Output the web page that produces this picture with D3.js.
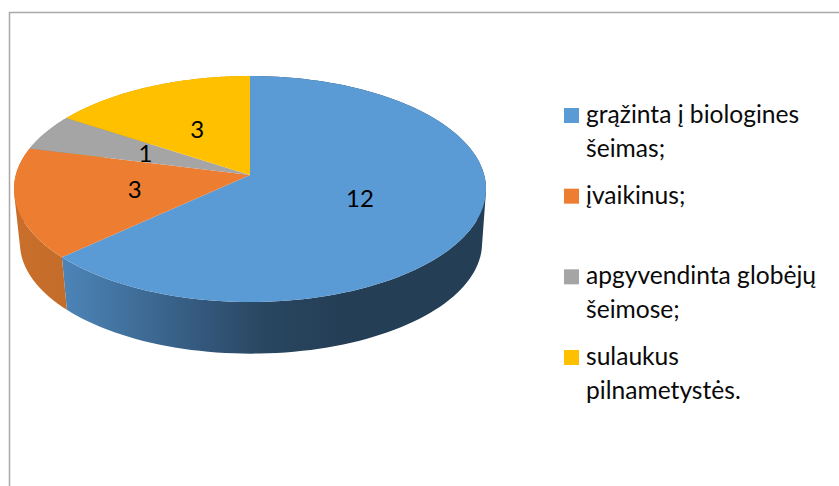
<!DOCTYPE html>
<html lang="lt">
<head>
<meta charset="utf-8">
<style>
  html, body { margin: 0; padding: 0; background: #fff; overflow: hidden; }
</style>
<script src="https://cdn.jsdelivr.net/npm/d3@7"></script>
</head>
<body>
<div id="chart"></div>
<script>
const categories = ['grąžinta į biologines šeimas;', 'įvaikinus;', 'apgyvendinta globėjų šeimose;', 'sulaukus pilnametystės.'];
const legendLines = [['grąžinta į biologines', 'šeimas;'], ['įvaikinus;'], ['apgyvendinta globėjų', 'šeimose;'], ['sulaukus', 'pilnametystės.']];
const values = [12, 3, 1, 3];
const colors = ['#5B9BD5', '#ED7D31', '#A5A5A5', '#FFC000'];

const W = 839, H = 486;
const fontFamily = 'Lato, Carlito, sans-serif';

const svg = d3.select('#chart').append('svg')
    .attr('width', W).attr('height', H)
    .style('display', 'block');

// Chart frame, cut off by the right and bottom of the picture
svg.append('path')
    .attr('d', `M9.5,${H} V12.5 H${W}`)
    .attr('fill', 'none').attr('stroke', '#A9A9A9').attr('stroke-width', 1.5);

// Perspective projection of the unit circle onto the pie top
const cx = 250, apexY = 175, persp = -0.1239, scaleX = 234.2, scaleY = 89.6;
function project(angle, r = 1) {
    const u = r * Math.sin(angle), v = -r * Math.cos(angle);
    const d = 1 + persp * v;
    return [cx + scaleX * u / d, (apexY + scaleY * v) / d];
}
// Base disc: top rim shrunk a little and moved down
const topCy = 189, baseCx = 251, baseCy = 243, baseK = 0.979;
function projectBase(angle) {
    const [x, y] = project(angle);
    return [baseCx + (x - cx) * baseK, baseCy + (y - topCy) * baseK];
}

const slices = d3.pie().sort(null).startAngle(0).endAngle(2 * Math.PI)(values);
const line = d3.line();
const sample = (a0, a1) => d3.range(0, 121).map(i => a0 + (a1 - a0) * i / 120);

// Side shading
const defs = svg.append('defs');
const sideStops = [
    [['0%', '#4C84B7'], ['26%', '#3F6D98'], ['50%', '#33577B'], ['72%', '#294660'], ['100%', '#243E55']],
    [['0%', '#C96F2B'], ['100%', '#C46C2A']],
    [['0%', '#8A8A8A'], ['100%', '#8A8A8A']],
    [['0%', '#C99700'], ['100%', '#C99700']]
];
const sideRange = [[65, 345], [18, 66], [20, 70], [60, 250]];
sideStops.forEach((stops, i) => {
    const grad = defs.append('linearGradient')
        .attr('id', `side-${i}`).attr('gradientUnits', 'userSpaceOnUse')
        .attr('x1', sideRange[i][0]).attr('y1', 0).attr('x2', sideRange[i][1]).attr('y2', 0);
    stops.forEach(s => grad.append('stop').attr('offset', s[0]).attr('stop-color', s[1]));
});

// Side walls swept as hulled quads so the tangent edges stay filled, then the top
svg.append('g').selectAll('path').data(slices).join('path')
    .attr('fill', (d, i) => `url(#side-${i})`)
    .attr('d', d => {
        const as = sample(d.startAngle, d.endAngle);
        return d3.pairs(as).map(([a, b]) => line(d3.polygonHull([
            project(a), project(b), projectBase(b), projectBase(a)
        ])) + 'Z').join('');
    });

svg.append('g').selectAll('path').data(slices).join('path')
    .attr('fill', (d, i) => colors[i])
    .attr('d', d => line([project(0, 0)].concat(sample(d.startAngle, d.endAngle).map(a => project(a)))) + 'Z');

// Value labels
svg.append('g').selectAll('text').data(slices).join('text')
    .attr('transform', d => {
        const [x, y] = project((d.startAngle + d.endAngle) / 2, 0.5);
        return `translate(${x},${y + 9})`;
    })
    .attr('text-anchor', 'middle')
    .attr('font-family', fontFamily).attr('font-size', 24).attr('fill', '#000')
    .text(d => d.value);

// Legend
const legendY = d3.scalePoint().domain(categories).range([115.5, 357.5]);
const legend = svg.append('g').selectAll('g').data(categories).join('g')
    .attr('transform', d => `translate(564,${legendY(d)})`);
legend.append('rect')
    .attr('x', 0).attr('y', -7.5).attr('width', 15).attr('height', 15)
    .attr('fill', (d, i) => colors[i]);
legend.each(function(d, i) {
    d3.select(this).selectAll('text').data(legendLines[i]).join('text')
        .attr('x', 22).attr('y', (t, j) => 7.5 + j * 33.5)
        .attr('font-family', fontFamily).attr('font-size', 24.6).attr('fill', '#0a0a0a')
        .text(t => t);
});
</script>
</body>
</html>
